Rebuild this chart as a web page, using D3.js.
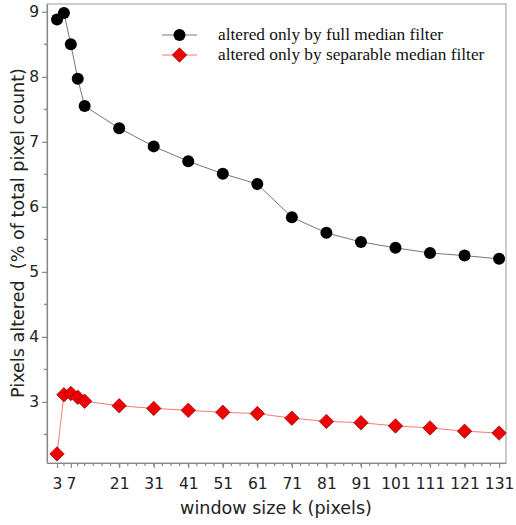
<!DOCTYPE html>
<html>
<head>
<meta charset="utf-8">
<script src="https://cdn.jsdelivr.net/npm/d3@7"></script>
<style>
  body { margin: 0; background: #fff; }
  svg { display: block; }
</style>
</head>
<body>
<div id="chart"></div>
<script>
// window sizes k (pixels)
let windowSizes = [3, 5, 7, 9, 11, 21, 31, 41, 51, 61, 71, 81, 91, 101, 111, 121, 131]
// % of pixels altered only by the full median filter
let fullMedian = [8.88, 8.98, 8.50, 7.97, 7.55, 7.21, 6.93, 6.70, 6.51, 6.35, 5.84, 5.60, 5.46, 5.37, 5.29, 5.25, 5.20]
// % of pixels altered only by the separable median filter
let sepMedian = [2.20, 3.11, 3.13, 3.07, 3.01, 2.94, 2.90, 2.87, 2.84, 2.82, 2.75, 2.70, 2.68, 2.63, 2.60, 2.55, 2.52]

let xTicks = [3, 7, 21, 31, 41, 51, 61, 71, 81, 91, 101, 111, 121, 131]
let xMinorTicks = [5, 9, 11, 13.5, 16, 18.5]
for (let t = 21; t < 131; t += 2.5) xMinorTicks.push(t)
let yTicks = [3, 4, 5, 6, 7, 8, 9]
let yMinorTicks = [2.5, 3.5, 4.5, 5.5, 6.5, 7.5, 8.5]

let legendText = ['altered only by full median filter', 'altered only by separable median filter']

let width = 516
let height = 525
let margin = { top: 4, left: 47, right: 10, bottom: 62 }

let svg = d3
  .select('#chart')
  .append('svg')
  .attr('width', width)
  .attr('height', height)

let x = d3.scaleLinear().domain([0.1, 133]).range([margin.left, width - margin.right])
let y = d3.scaleLinear().domain([2.06, 9.12]).range([height - margin.bottom, margin.top])

let axisColor = '#888'
let textColor = '#222'

// frame (top and right)
svg
  .append('rect')
  .attr('x', margin.left)
  .attr('y', margin.top)
  .attr('width', width - margin.left - margin.right)
  .attr('height', height - margin.top - margin.bottom)
  .attr('fill', 'none')
  .attr('stroke', '#999')
  .attr('stroke-width', 1)

// x axis
let xAxis = svg
  .append('g')
  .attr('transform', `translate(0, ${height - margin.bottom})`)
  .call(
    d3.axisBottom(x).tickValues(xTicks).tickFormat(d3.format('d'))
      .tickSize(5).tickPadding(10).tickSizeOuter(0)
  )
xAxis
  .append('g')
  .selectAll('line')
  .data(xMinorTicks)
  .enter()
  .append('line')
  .attr('x1', d => x(d))
  .attr('x2', d => x(d))
  .attr('y1', 0)
  .attr('y2', 3)

// y axis
let yAxis = svg
  .append('g')
  .attr('transform', `translate(${margin.left}, 0)`)
  .call(
    d3.axisLeft(y).tickValues(yTicks).tickFormat(d3.format('d'))
      .tickSize(5).tickPadding(3).tickSizeOuter(0)
  )
yAxis
  .append('g')
  .selectAll('line')
  .data(yMinorTicks)
  .enter()
  .append('line')
  .attr('y1', d => y(d))
  .attr('y2', d => y(d))
  .attr('x1', 0)
  .attr('x2', -3)

svg.selectAll('.domain, .tick line').attr('stroke', axisColor).attr('stroke-width', 1.2)
xAxis.selectAll('g > line').attr('stroke', axisColor).attr('stroke-width', 1.2)
yAxis.selectAll('g > line').attr('stroke', axisColor).attr('stroke-width', 1.2)
svg
  .selectAll('.tick text')
  .attr('fill', textColor)
  .attr('font-family', 'DejaVu Sans')
  .attr('font-size', 15.5)

// size a text so it spans the given length
function fitText(sel, target) {
  let len = sel.node().getComputedTextLength()
  let size = +sel.attr('font-size')
  sel.attr('font-size', (size * target / len).toFixed(2))
}

// axis titles
let xTitle = svg
  .append('text')
  .attr('x', 276)
  .attr('y', 514)
  .attr('text-anchor', 'middle')
  .attr('font-family', 'DejaVu Sans')
  .attr('font-size', 15)
  .attr('fill', textColor)
  .text('window size k (pixels)')
fitText(xTitle, 192)

let yTitle = svg
  .append('text')
  .attr('transform', 'translate(24, 233) rotate(-90)')
  .attr('text-anchor', 'middle')
  .attr('font-family', 'DejaVu Sans')
  .attr('font-size', 15)
  .attr('fill', textColor)
  .style('white-space', 'pre')
  .text('Pixels altered  (% of total pixel count)')
fitText(yTitle, 330)

let fullData = windowSizes.map((k, i) => ({ k: k, v: fullMedian[i] }))
let sepData = windowSizes.map((k, i) => ({ k: k, v: sepMedian[i] }))

let line = d3
  .line()
  .x(d => x(d.k))
  .y(d => y(d.v))

let diamond = d3.symbol().type(d3.symbolSquare).size(105)

// full median series
svg
  .append('path')
  .datum(fullData)
  .attr('d', line)
  .attr('fill', 'none')
  .attr('stroke', '#777')
  .attr('stroke-width', 1)

svg
  .selectAll('.full-point')
  .data(fullData)
  .enter()
  .append('circle')
  .attr('class', 'full-point')
  .attr('cx', d => x(d.k))
  .attr('cy', d => y(d.v))
  .attr('r', 6)
  .attr('fill', '#000')

// separable median series
svg
  .append('path')
  .datum(sepData)
  .attr('d', line)
  .attr('fill', 'none')
  .attr('stroke', '#ff7777')
  .attr('stroke-width', 1)

svg
  .selectAll('.sep-point')
  .data(sepData)
  .enter()
  .append('path')
  .attr('class', 'sep-point')
  .attr('d', diamond)
  .attr('transform', d => `translate(${x(d.k)}, ${y(d.v)}) rotate(45)`)
  .attr('fill', '#f00000')
  .attr('stroke', '#700')
  .attr('stroke-width', 0.6)

// legend
let legend = svg.append('g')

legend
  .append('line')
  .attr('x1', 162)
  .attr('x2', 197)
  .attr('y1', 35)
  .attr('y2', 35)
  .attr('stroke', '#777')
legend
  .append('circle')
  .attr('cx', 179.5)
  .attr('cy', 35)
  .attr('r', 6)
  .attr('fill', '#000')

legend
  .append('line')
  .attr('x1', 162)
  .attr('x2', 197)
  .attr('y1', 55)
  .attr('y2', 55)
  .attr('stroke', '#ff7777')
legend
  .append('path')
  .attr('d', diamond)
  .attr('transform', 'translate(179.5, 55) rotate(45)')
  .attr('fill', '#f00000')
  .attr('stroke', '#700')
  .attr('stroke-width', 0.6)

legend
  .selectAll('.legend-text')
  .data(legendText)
  .enter()
  .append('text')
  .attr('class', 'legend-text')
  .attr('x', 218)
  .attr('y', (d, i) => 40 + i * 20)
  .attr('font-family', 'Liberation Serif')
  .attr('font-size', 17.3)
  .attr('fill', '#111')
  .text(d => d)
</script>
</body>
</html>
